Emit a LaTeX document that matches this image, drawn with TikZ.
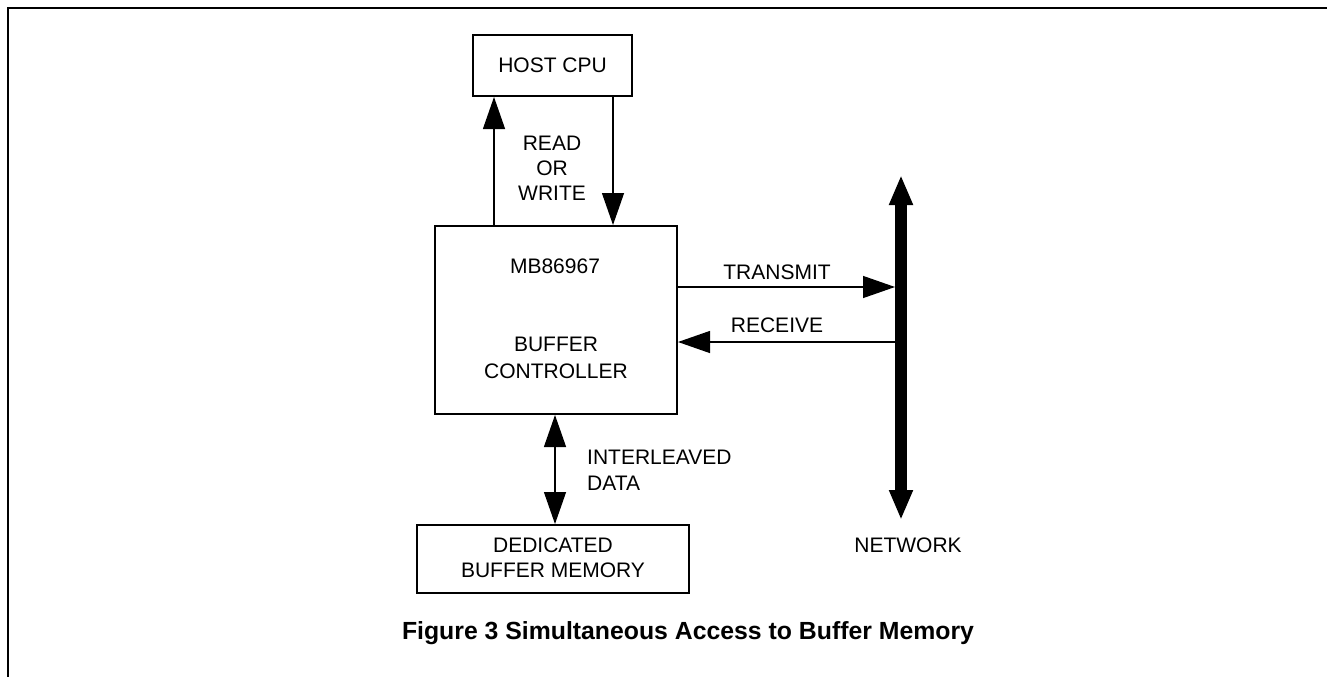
\documentclass[tikz,border=0pt]{standalone}
\usepackage{fontspec}
\setmainfont{Liberation Sans}
\usetikzlibrary{arrows.meta}
\begin{document}
\begin{tikzpicture}[x=1pt,y=-1pt,
  box/.style={draw,line width=2pt,inner sep=0pt},
  lbl/.style={font=\fontsize{21}{26}\selectfont,align=center,inner sep=0pt},
  arr/.style={line width=1.3pt,-{Triangle[length=32pt,width=22pt]}},
  darr/.style={line width=1.3pt,{Triangle[length=32pt,width=22pt]}-{Triangle[length=32pt,width=22pt]}},
  bus/.style={line width=12pt,{Triangle[length=30pt,width=22pt]}-{Triangle[length=30pt,width=22pt]}},
  frameline/.style={line width=2pt}]
\useasboundingbox (0,0) rectangle (1327,677);
\draw[frameline] (1327,8) -- (8,8) -- (8,677);

\node[box,minimum width=159pt,minimum height=61pt] (host) at (552.5,65.5) {};
\node[lbl] (hosttxt) at (host.center) {HOST CPU};

\node[box,minimum width=242pt,minimum height=188pt] (mb) at (556,320) {};
\node[lbl] (mbtxt) at (555,266) {MB86967};
\node[lbl] (bctxt) at (556,357.5) {BUFFER\\[1pt]CONTROLLER};

\node[box,minimum width=272pt,minimum height=68pt] (mem) at (553,559) {};
\node[lbl] (memtxt) at (553,557.5) {DEDICATED\\[-1pt]BUFFER MEMORY};

\coordinate (nt) at (901,175);
\coordinate (nb) at (901,520);
\draw[bus] (nt) -- (nb);
\node[lbl] (nettxt) at (908,545) {NETWORK};

% host <-> mb
\draw[arr] (mb.north -| 494,0) -- (host.south -| 494,0);
\draw[arr] (host.south -| 613,0) -- (mb.north -| 613,0);
\node[lbl] (rw) at (552,168.5) {READ\\[-1pt]OR\\[-1pt]WRITE};

% mb <-> network
\draw[arr] (mb.east |- 0,287) -- ([xshift=-6pt]nt |- 0,287);
\node[lbl] (tx) at (777,272) {TRANSMIT};
\draw[arr] ([xshift=-6pt]nt |- 0,342) -- (mb.east |- 0,342);
\node[lbl] (rx) at (777,325) {RECEIVE};

% mb <-> memory
\draw[darr] (mb.south -| 555,0) -- (mem.north -| 555,0);
\node[lbl,align=left,anchor=west] (il) at (587,470) {INTERLEAVED\\DATA};

\node[font=\fontsize{24.8}{30}\bfseries\selectfont,inner sep=0pt] (cap) at (688,633) {Figure 3 Simultaneous Access to Buffer Memory};
\end{tikzpicture}
\end{document}
